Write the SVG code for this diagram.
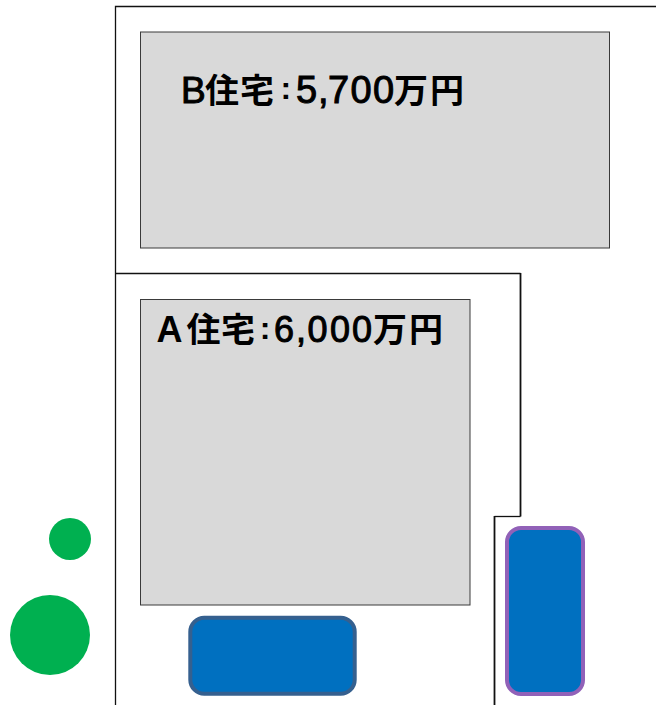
<svg xmlns="http://www.w3.org/2000/svg" width="656" height="705" viewBox="0 0 656 705">
<style>
.house{fill:#d9d9d9;stroke:#3a3a3a;stroke-width:1}
.label{font-family:"Noto Sans CJK JP","Liberation Sans",sans-serif;font-weight:700;font-size:34px;fill:#000}
.lat{font-family:"Liberation Sans",sans-serif;font-weight:400;stroke:#000;stroke-width:1}
.latb{font-family:"Liberation Sans",sans-serif;font-weight:700;font-size:36px}
.colon{font-family:"Liberation Sans",sans-serif;font-weight:700;font-size:32px}
.tree{fill:#00b050}
.car{fill:#0070c0;stroke-width:4}
.lot{fill:none;stroke:#111;stroke-width:1.3}
.lot2{fill:none;stroke:#111;stroke-width:1.8}
</style>
<rect width="656" height="705" fill="#fff"/>
<g id="connectors">
<path class="lot" d="M656 6.500H115.500V705"/>
<path class="lot" d="M115.500 273.500H520.500"/>
<path class="lot2" d="M520.500 273V516.500"/>
<path class="lot" d="M520.500 516.500H494.500"/>
<path class="lot2" d="M494.500 516V705"/>
</g>
<g id="house-b">
<rect class="house" x="140.500" y="32" width="469" height="216"/>
<text class="label" y="102.500"><tspan class="lat" x="181" font-size="37">B</tspan><tspan x="205">住</tspan><tspan x="240">宅</tspan><tspan class="colon" x="280.500" y="99">:</tspan><tspan class="lat" x="296 318 328 350.500 373" y="102.500" font-size="38">5,700</tspan><tspan x="394">万</tspan><tspan x="430">円</tspan></text>
</g>
<g id="house-a">
<rect class="house" x="140.500" y="299.500" width="329.500" height="305.500"/>
<text class="label" y="342"><tspan class="latb" x="156.500">A</tspan><tspan x="186.500">住</tspan><tspan x="221">宅</tspan><tspan class="colon" x="259.700" y="339">:</tspan><tspan class="lat" x="274 296 307.500 330 352" y="342" font-size="36">6,000</tspan><tspan x="373">万</tspan><tspan x="409">円</tspan></text>
</g>
<g id="tree-small"><circle class="tree" cx="70" cy="539" r="21"/></g>
<g id="tree-large"><circle class="tree" cx="50" cy="635" r="40"/></g>
<g id="car-a"><rect class="car" x="190.300" y="617.700" width="164.400" height="76" rx="14" stroke="#35608f"/></g>
<g id="car-b"><rect class="car" x="507" y="528" width="76" height="166" rx="14" stroke="#9161b8"/></g>
</svg>
